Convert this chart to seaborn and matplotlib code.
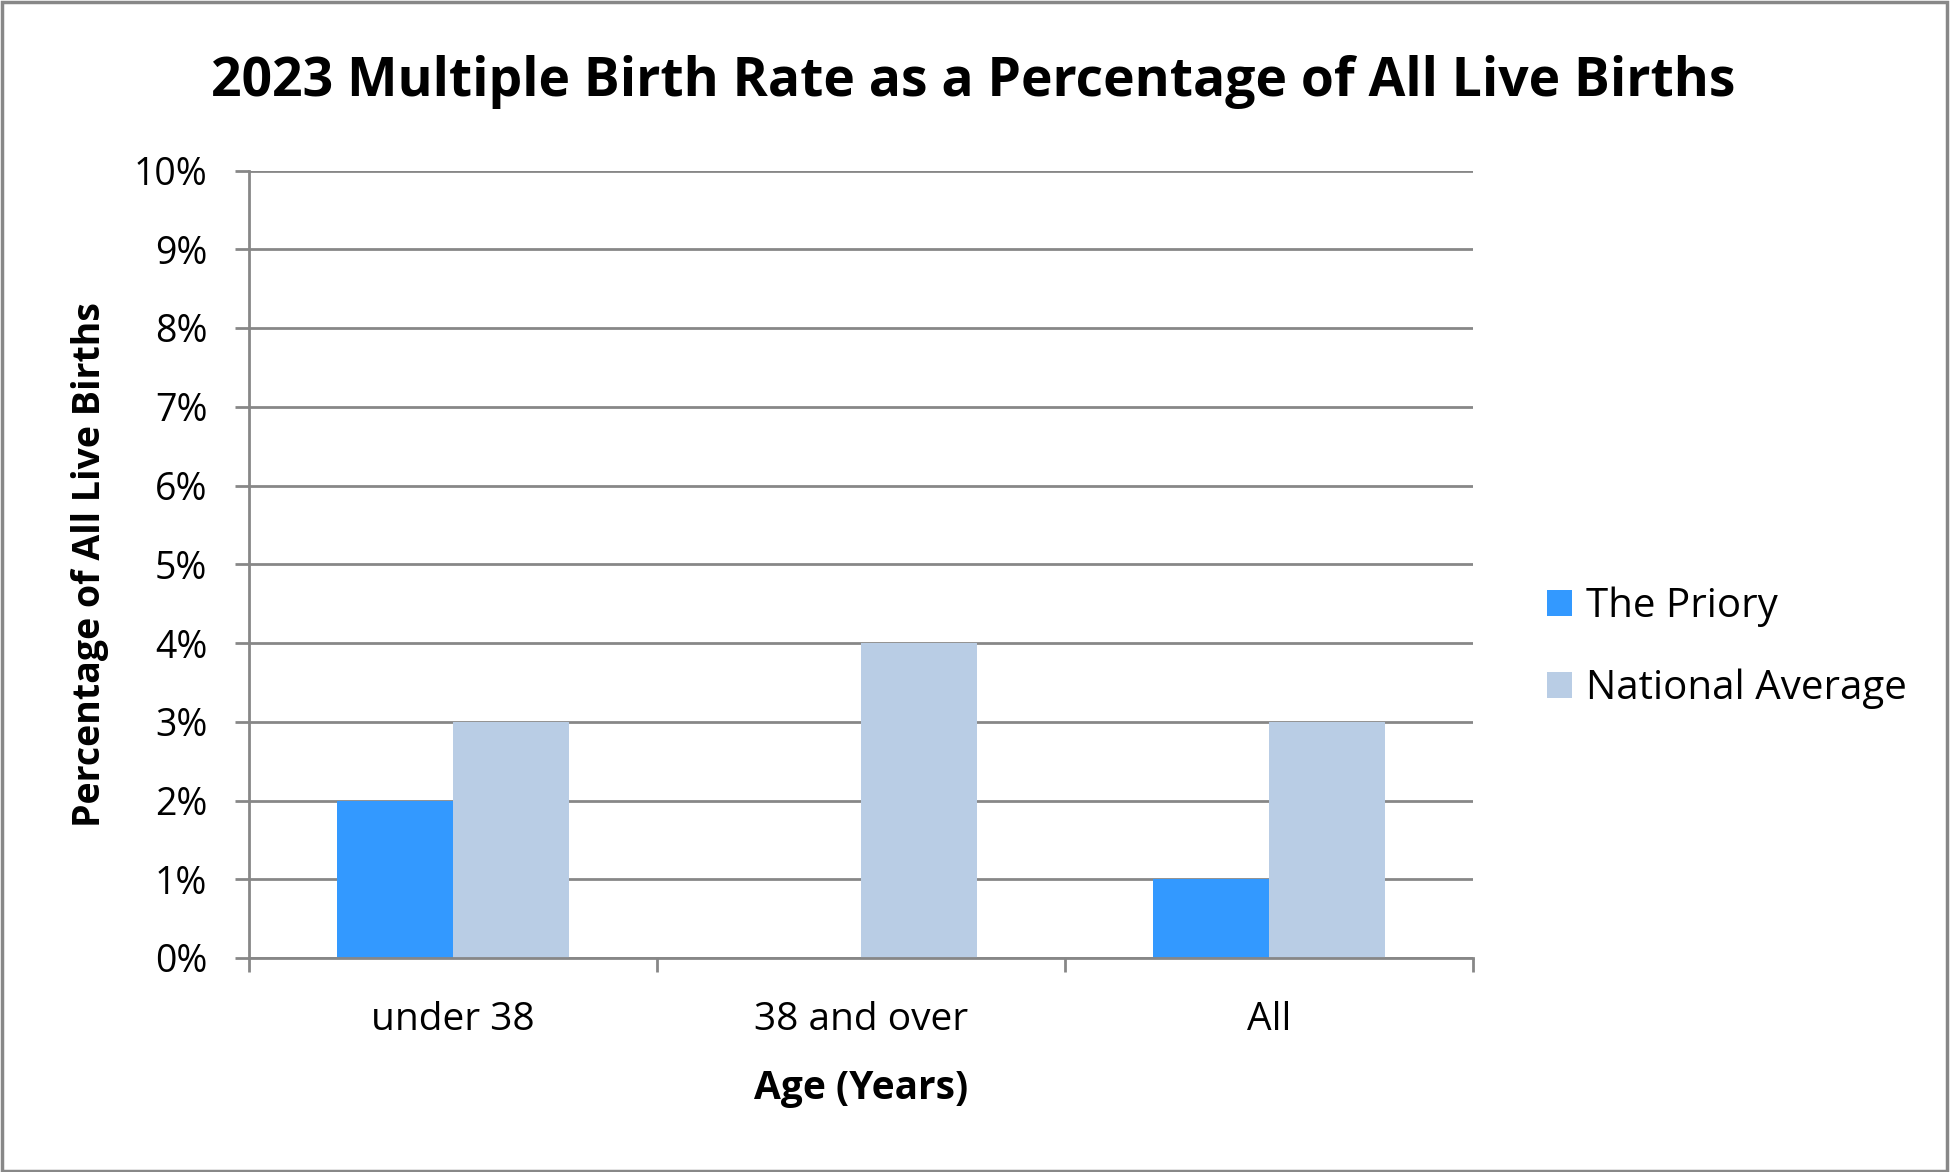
import matplotlib
matplotlib.use("Agg")
import matplotlib.pyplot as plt
import seaborn as sns
import pandas as pd
from matplotlib.patches import Rectangle, Patch
from matplotlib.ticker import FixedLocator, FuncFormatter

categories = ["under 38", "38 and over", "All"]
priory = [2, 0, 1]
national = [3, 4, 3]
series_names = ["The Priory", "National Average"]
colors = ["#3399FF", "#B9CDE5"]

df = pd.DataFrame({
    "Age": categories * 2,
    "Value": priory + national,
    "Series": [series_names[0]] * 3 + [series_names[1]] * 3,
})

sns.set_theme(style="white")
plt.rcParams["font.family"] = ["Open Sans", "DejaVu Sans"]
plt.rcParams["text.color"] = "black"
plt.rcParams["axes.labelcolor"] = "black"

W, H = 1951, 1172
fig = plt.figure(figsize=(W / 100, H / 100), dpi=100)
ax = fig.add_axes([249 / W, 1 - 958 / H, (1473 - 249) / W, (958 - 170.5) / H])

sns.barplot(data=df, x="Age", y="Value", hue="Series", palette=colors,
            width=0.57, gap=0, saturation=1, ax=ax, legend=False,
            edgecolor="none", linewidth=0, zorder=3)

grid_c = "#878787"
ax.set_ylim(0, 10)
ax.set_xlim(-0.5, 2.5)
ax.set_yticks(range(0, 11))
ax.yaxis.set_major_formatter(FuncFormatter(lambda v, p: f"{v:.0f}%"))
ax.grid(axis="y", color=grid_c, linewidth=2.0, zorder=0)
ax.set_axisbelow(True)
for s in ["top", "right"]:
    ax.spines[s].set_visible(False)
ax.spines["left"].set_color(grid_c)
ax.spines["left"].set_linewidth(2.0)
ax.spines["bottom"].set_color(grid_c)
ax.spines["bottom"].set_linewidth(2.0)
ax.spines["bottom"].set_zorder(4)

ax.tick_params(axis="y", length=10, width=2.0, color=grid_c, direction="out",
               labelsize=27, labelcolor="black", pad=20, left=True)
ax.tick_params(axis="x", which="major", length=0, labelsize=28,
               labelcolor="black", pad=31)
ax.xaxis.set_minor_locator(FixedLocator([-0.5, 0.5, 1.5, 2.5]))
ax.tick_params(axis="x", which="minor", length=10, width=2.0, color=grid_c,
               direction="out", bottom=True)

ax.set_xlabel("Age (Years)", fontsize=28, fontweight="bold", color="black")
ax.set_ylabel("Percentage of All Live Births", fontsize=27, fontweight="bold",
              color="black")
ax.xaxis.set_label_coords(0.5, (958 - 1088) / 787.5)
ax.xaxis.label.set_va("center")
ax.yaxis.set_label_coords((90 - 249) / 1224, 0.5)
ax.yaxis.label.set_va("center")

fig.text(0.5 * (170 + 1395) * 1.2443 / W, 1 - 82 / H,
         "2023 Multiple Birth Rate as a Percentage of All Live Births",
         ha="center", va="center", fontsize=38.5, fontweight="bold",
         color="black")

handles = [Patch(facecolor=c, edgecolor="none") for c in colors]
fig.legend(handles, series_names, loc="center left",
           bbox_to_anchor=(1547 / W, 1 - 648 / H), frameon=False,
           fontsize=29, handlelength=0.62, handleheight=0.62,
           handletextpad=0.35, labelspacing=1.04, borderpad=0,
           borderaxespad=0)

fig.add_artist(Rectangle((0.001, 0.001), 0.997, 0.997, transform=fig.transFigure,
                         fill=False, edgecolor="#888888", linewidth=2.5))

fig.savefig("out.png", dpi=100)
